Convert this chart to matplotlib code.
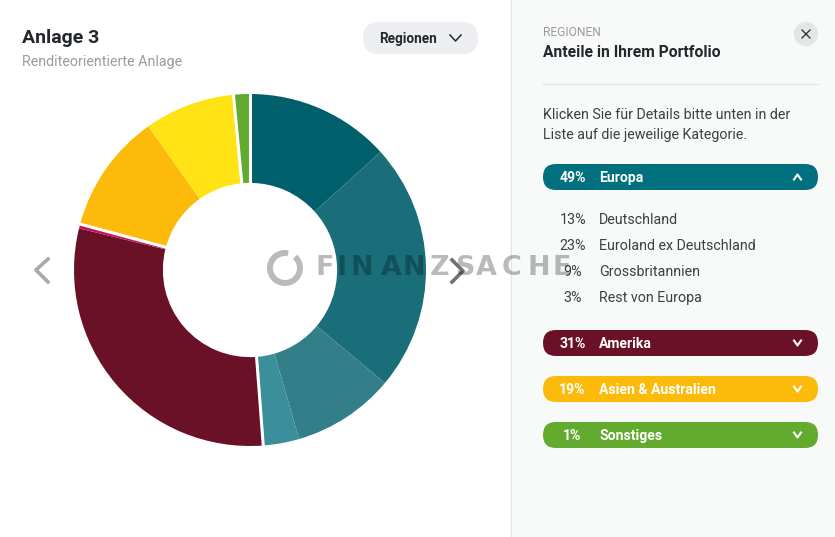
import numpy as np
import matplotlib
matplotlib.use('Agg')
import matplotlib.pyplot as plt
from matplotlib.patches import FancyBboxPatch, Rectangle, Circle, Wedge

plt.rcParams['font.family'] = ['Roboto', 'DejaVu Sans']

# Slices clockwise from the top, in percent
slice_values = [13.3, 22.8, 9.4, 3.3, 30.0, 0.4, 11.0, 8.3, 1.5]
slice_colors = ['#005f6b', '#1a6e7a', '#337f89', '#3a8f9a', '#6b1127', '#c2185b',
                '#fcbb0a', '#ffe314', '#62ab2e']
# Slice index after which a white gap is drawn
gap_after = [3, 5, 7, 8]

group_pct = ['49%', '31%', '19%', '1%']
group_names = ['Europa', 'Amerika', 'Asien & Australien', 'Sonstiges']
group_colors = ['#00707f', '#6b1127', '#fcbb0a', '#62ab2e']
group_tops = [164, 330, 376, 422]

detail_pct = ['13%', '23%', '9%', '3%']
detail_names = ['Deutschland', 'Euroland ex Deutschland', 'Grossbritannien', 'Rest von Europa']
detail_y = [220, 246, 272, 298]

watermark_letters = list('FINANZSACHE')
watermark_x = [325, 342, 362, 391, 414, 440, 465, 486, 512, 539, 562]


def px(size):
    return size * 0.72


fig = plt.figure(figsize=(8.35, 5.37), dpi=100, facecolor='white')

# Page layer in pixel coordinates
ui = fig.add_axes([0, 0, 1, 1], zorder=0)
ui.set_xlim(0, 835)
ui.set_ylim(537, 0)
ui.axis('off')

ui.add_patch(Rectangle((510, 0), 325, 537, fc='#f8f9f9', ec='none'))
ui.plot([510.5, 510.5], [0, 537], color='#e6e6e6', lw=0.8)

ui.text(22, 38, 'Anlage 3', fontsize=px(19.5), fontweight='bold', color='#24272c', va='center')
ui.text(22, 62, 'Renditeorientierte Anlage', fontsize=px(14.25), color='#9a9a9f', va='center')

ui.add_patch(FancyBboxPatch((363, 22), 115, 32, boxstyle='round,pad=0,rounding_size=16',
                            fc='#eceef2', ec='none'))
ui.text(379, 39, 'Regionen', fontsize=px(13.6), fontweight='bold', color='#24272c', va='center')
ui.plot([450, 455.5, 461], [35, 41, 35], color='#24272c', lw=1.1)

ui.text(543, 32.5, 'REGIONEN', fontsize=px(12), color='#9a9a9f', va='center')
ui.text(543, 52.5, 'Anteile in Ihrem Portfolio', fontsize=px(15.6), fontweight='bold',
        color='#24272c', va='center')
ui.add_patch(Circle((806, 34), 12, fc='#e4e5e5', ec='none'))
ui.plot([802, 810], [30, 38], color='#24272c', lw=0.9)
ui.plot([802, 810], [38, 30], color='#24272c', lw=0.9)
ui.plot([543, 818], [83.5, 83.5], color='#e2e3e3', lw=0.8)

ui.text(543, 115, 'Klicken Sie für Details bitte unten in der', fontsize=px(14.2),
        color='#3c3f44', va='center')
ui.text(543, 135, 'Liste auf die jeweilige Kategorie.', fontsize=px(14.2),
        color='#3c3f44', va='center')

for i, top in enumerate(group_tops):
    ui.add_patch(FancyBboxPatch((543, top), 275, 26, boxstyle='round,pad=0,rounding_size=13',
                                fc=group_colors[i], ec='none'))
    mid = top + 13
    ui.text(572.5, mid + 1, group_pct[i], fontsize=px(14), fontweight='bold', color='white',
            ha='center', va='center')
    ui.text(599, mid + 1, group_names[i], fontsize=px(14), fontweight='bold', color='white', va='center')
    # the open group points up
    tip = -2.5 if i == 0 else 2.5
    ui.plot([794, 797.5, 801], [mid - tip, mid + tip, mid - tip], color='white', lw=1.5)

for i, y in enumerate(detail_y):
    ui.text(573, y, detail_pct[i], fontsize=px(14.2), color='#3c3f44', ha='center', va='center')
    ui.text(599, y, detail_names[i], fontsize=px(14.2), color='#3c3f44', va='center')

# Carousel arrows
ui.plot([48, 36, 48], [259, 270, 282], color='#a9a9a9', lw=2.6)
ui.plot([452, 463, 452], [260, 271, 282], color='#6e7276', lw=2.6, zorder=1)

# Donut
ax = fig.add_axes([74 / 835, (537 - 446) / 537, 352 / 835, 352 / 537], zorder=1)
ax.patch.set_alpha(0)
wedges, _ = ax.pie(slice_values, colors=slice_colors, startangle=90, counterclock=False,
                   radius=1, wedgeprops={'width': 0.505, 'linewidth': 0})
ax.set_xlim(-1, 1)
ax.set_ylim(-1, 1)

# White gaps between the groups
cum = np.cumsum(slice_values) / np.sum(slice_values)
for i in gap_after:
    angle = np.pi / 2 - 2 * np.pi * cum[i]
    ax.plot([0.45 * np.cos(angle), 1.02 * np.cos(angle)],
            [0.45 * np.sin(angle), 1.02 * np.sin(angle)], color='white', lw=2.2)

# Watermark on top of everything
wm = fig.add_axes([0, 0, 1, 1], zorder=2)
wm.set_xlim(0, 835)
wm.set_ylim(537, 0)
wm.axis('off')
wm.patch.set_alpha(0)
wm.add_patch(Wedge((285, 268), 18, 312, 282, width=6, fc='black', ec='none', alpha=0.27))
for letter, x in zip(watermark_letters, watermark_x):
    wm.text(x, 268, letter, fontsize=px(27), fontweight='bold', family='DejaVu Sans', color='black',
            alpha=0.27, ha='center', va='center')

fig.savefig('out.png', dpi=100)
